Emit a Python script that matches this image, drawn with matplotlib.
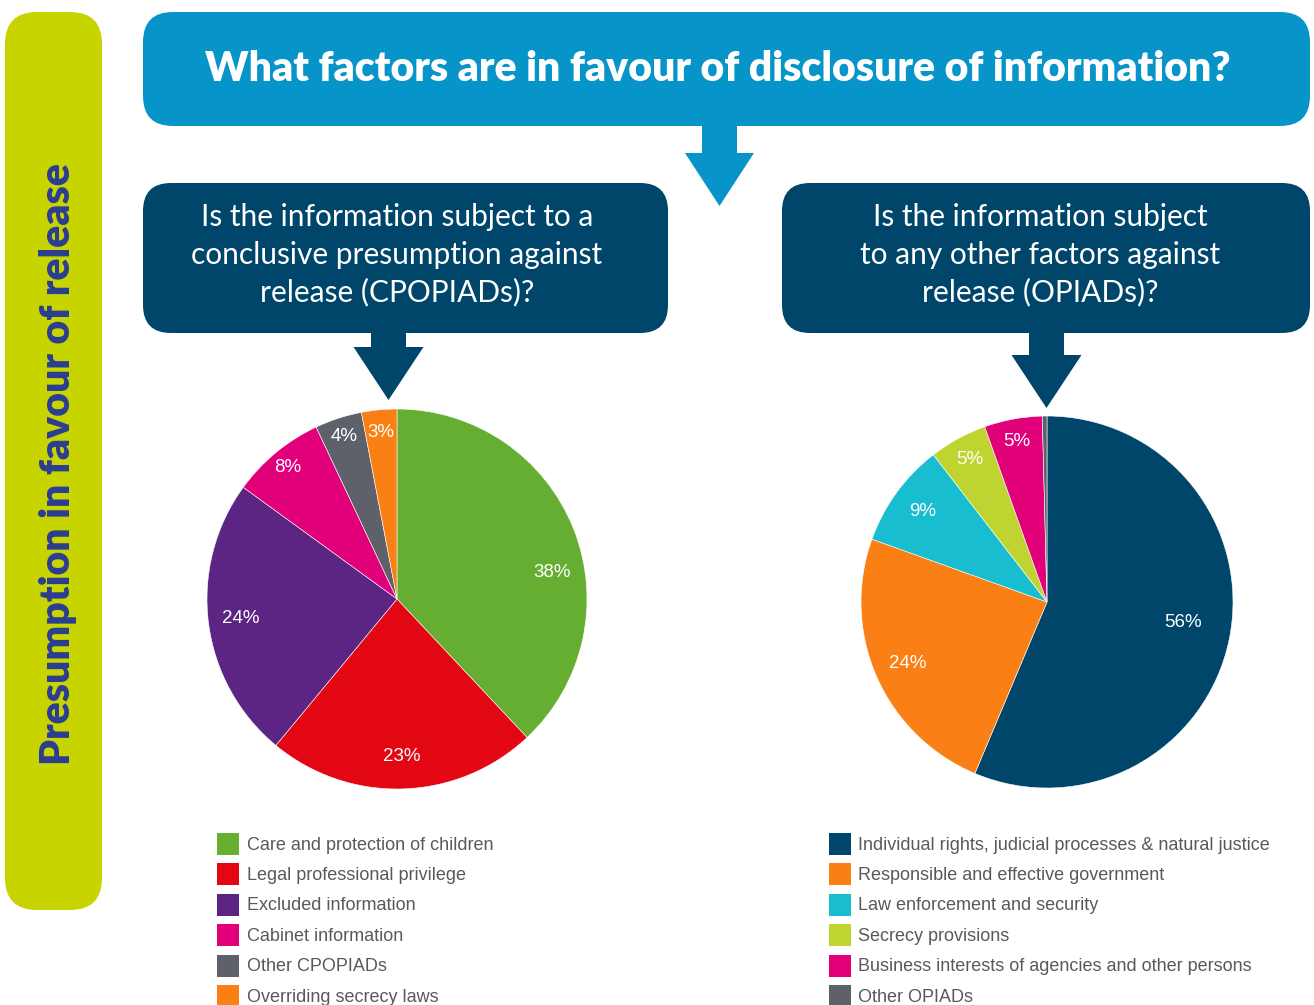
import matplotlib
matplotlib.use("Agg")
import matplotlib.pyplot as plt
from matplotlib.patches import FancyBboxPatch, Polygon, Rectangle
import numpy as np

# ---- data -------------------------------------------------------------
title = "What factors are in favour of disclosure of information?"
side_label = "Presumption in favour of release"

left_question = ["Is the information subject to a",
                 "conclusive presumption against",
                 "release (CPOPIADs)?"]
right_question = ["Is the information subject",
                  "to any other factors against",
                  "release (OPIADs)?"]

cpopiad_categories = ["Care and protection of children",
                      "Legal professional privilege",
                      "Excluded information",
                      "Cabinet information",
                      "Other CPOPIADs",
                      "Overriding secrecy laws"]
cpopiad_values = [38, 23, 24, 8, 4, 3]

opiad_categories = ["Individual rights, judicial processes & natural justice",
                    "Responsible and effective government",
                    "Law enforcement and security",
                    "Secrecy provisions",
                    "Business interests of agencies and other persons",
                    "Other OPIADs"]
opiad_values = [56, 24, 9, 5, 5, 0.4]

# ---- styling ----------------------------------------------------------
GREEN, RED, PURPLE = "#65ae31", "#e30613", "#5c2483"
MAGENTA, GREY, ORANGE = "#e2007a", "#5e6169", "#fa7f14"
NAVY, CYAN, LIME = "#00466b", "#19bdd0", "#bfd431"
BLUE = "#0795c9"
SIDE_BG, SIDE_TXT = "#c8d400", "#2a3d91"
LEGEND_TXT = "#595959"

cpopiad_colors = [GREEN, RED, PURPLE, MAGENTA, GREY, ORANGE]
opiad_colors = [NAVY, ORANGE, CYAN, LIME, MAGENTA, GREY]

# radial position (fraction of radius) and angular nudge (deg) for labels
cpopiad_label_r = [0.83, 0.83, 0.83, 0.90, 0.90, 0.88]
cpopiad_label_dt = [-12, 0, 0, 0, 0, 0]
opiad_label_r = [0.74, 0.82, 0.83, 0.87, 0.88, 0.85]
opiad_label_dt = [3, 0, 0, 0, 0, 0]

W, H = 1314, 1005
fig = plt.figure(figsize=(W / 100, H / 100), dpi=100)
ax = fig.add_axes([0, 0, 1, 1])


def Y(py):
    """Convert a top-down pixel row into the axes' bottom-up y value."""
    return H - py


def rounded_box(x0, y0, x1, y1, color, r):
    ax.add_patch(FancyBboxPatch((x0, Y(y1)), x1 - x0, y1 - y0,
                                boxstyle=f"round,pad=0,rounding_size={r}",
                                fc=color, ec="none", zorder=1))


def down_arrow(cx, top, neck, tip, shaft_hw, head_hw, color):
    pts = [(cx - shaft_hw, top), (cx + shaft_hw, top), (cx + shaft_hw, neck),
           (cx + head_hw, neck), (cx, tip), (cx - head_hw, neck),
           (cx - shaft_hw, neck)]
    ax.add_patch(Polygon([(x, Y(y)) for x, y in pts], closed=True,
                         fc=color, ec="none", zorder=1))


# side banner
rounded_box(5, 12, 102, 910, SIDE_BG, 32)
ax.text(70, Y(464), side_label, rotation=90, rotation_mode="anchor",
        ha="center", va="baseline", color=SIDE_TXT, fontsize=29.5,
        fontweight="heavy", family="Lato")

# headline banner
rounded_box(143, 12, 1310, 126, BLUE, 30)
down_arrow(719.5, 120, 153, 206, 17.5, 34.5, BLUE)
ax.text(718, Y(81), title, ha="center", va="baseline", color="white",
        fontsize=29.5, fontweight="heavy", family="Lato")

# question boxes
rounded_box(143, 183, 668, 333, NAVY, 28)
rounded_box(782, 183, 1310, 333, NAVY, 28)
down_arrow(388.5, 325, 347, 400, 17.5, 35, NAVY)
down_arrow(1046.5, 325, 355, 408, 17.5, 35, NAVY)

for lines, cx in ((left_question, 397), (right_question, 1040)):
    for line, base in zip(lines, (226, 264, 301.5)):
        ax.text(cx, Y(base), line, ha="center", va="baseline", color="white",
                fontsize=21.5, fontweight="normal", family="Lato")


def draw_pie(values, colors, center, radius, label_r, label_dt):
    total = float(sum(values))
    wedges, _ = ax.pie(values, colors=colors, startangle=90,
                       counterclock=False, center=(center[0], Y(center[1])),
                       radius=radius, frame=True,
                       wedgeprops=dict(edgecolor="white", linewidth=0.4))
    for w, v, r, dt in zip(wedges, values, label_r, label_dt):
        pct = v / total * 100
        if pct < 1:
            continue
        ang = np.deg2rad((w.theta1 + w.theta2) / 2 + dt)
        ax.text(center[0] + r * radius * np.cos(ang),
                Y(center[1]) + r * radius * np.sin(ang),
                f"{pct:.0f}%", ha="center", va="center", color="white",
                fontsize=13.5, family="Liberation Sans", zorder=5)


draw_pie(cpopiad_values, cpopiad_colors, (397, 599), 190,
         cpopiad_label_r, cpopiad_label_dt)
draw_pie(opiad_values, opiad_colors, (1047, 602), 186,
         opiad_label_r, opiad_label_dt)


def legend(cats, colors, x_sq, x_txt, first_row=844, step=30.4):
    for i, (cat, col) in enumerate(zip(cats, colors)):
        yc = first_row + i * step
        ax.add_patch(Rectangle((x_sq, Y(yc) - 11), 22, 22, fc=col, ec="none"))
        ax.text(x_txt, Y(yc + 1), cat, ha="left", va="center", color=LEGEND_TXT,
                fontsize=13, family="Liberation Sans")


legend(cpopiad_categories, cpopiad_colors, 217, 247)
legend(opiad_categories, opiad_colors, 829, 858)

ax.set_xlim(0, W)
ax.set_ylim(0, H)
ax.set_aspect("equal")
ax.axis("off")
fig.savefig("out.png", dpi=100, facecolor="white")
